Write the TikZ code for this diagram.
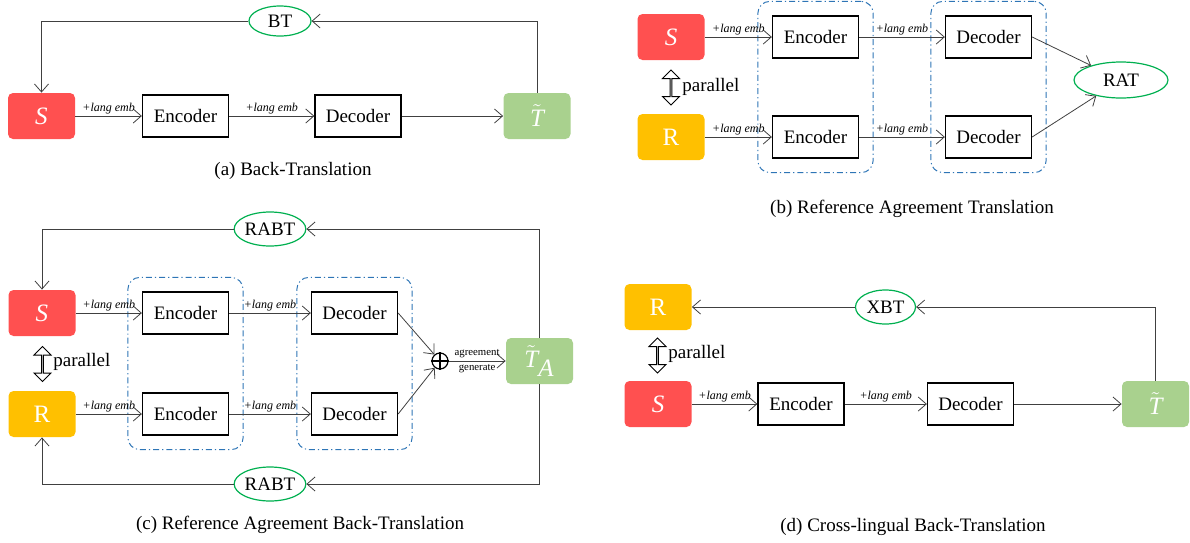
\documentclass[tikz,border=0pt]{standalone}
\usepackage{fontspec}
\setmainfont{Liberation Serif}
\usetikzlibrary{arrows.meta,shapes.geometric,shapes.arrows,fit}
\definecolor{sred}{HTML}{FF5050}
\definecolor{ryel}{HTML}{FFC000}
\definecolor{tgrn}{HTML}{A9D18E}
\definecolor{egrn}{HTML}{00B050}
\definecolor{grpblue}{HTML}{2E75B6}
\definecolor{lngray}{HTML}{404040}
\begin{document}
\begin{tikzpicture}[x=0.5pt,y=-0.5pt,
        every node/.style={font=\fontsize{9.5}{11}\selectfont},
        colbox/.style={rectangle,rounded corners=2.5pt,inner sep=0pt,text=white,
            minimum width=33.5pt,minimum height=23pt,font=\fontsize{12.5}{14}\selectfont},
        block/.style={rectangle,draw=black,line width=0.65pt,minimum width=43pt,minimum height=21pt},
        loss/.style={ellipse,draw=egrn,line width=0.6pt,inner sep=0pt},
        grp/.style={draw=grpblue,line width=0.5pt,dash pattern=on 3pt off 1.5pt on 0.6pt off 1.5pt,
            rounded corners=6pt,inner sep=7pt},
        flow/.style={draw=lngray,line width=0.4pt,-{Straight Barb[length=4pt,width=7pt]}},
        emb/.style={above,inner sep=1pt,font=\fontsize{6}{7}\selectfont\itshape},
        tiny/.style={inner sep=1.5pt,font=\fontsize{5.4}{6}\selectfont},
        par/.style={double arrow,shape border rotate=90,draw=black,line width=0.5pt,fill=white,
            inner sep=0pt,minimum width=8.5pt,minimum height=17.5pt,
            double arrow head extend=2.5pt,double arrow head indent=0pt}]
    \useasboundingbox (0,0) rectangle (1190,542);

    % (a)
    \node[colbox,fill=sred] (sa) at (41.5,116) {\textit{S}};
    \node[block] (enca) at (185.5,116) {Encoder};
    \node[block] (deca) at (358,116) {Decoder};
    \node[colbox,fill=tgrn] (ta) at (537,116) {$\tilde{\textit{T}}$};
    \node[loss,minimum width=31pt,minimum height=15pt] (bt) at (280,21) {BT};
    \node (capa) at (293,171) {(a) Back-Translation};

    \draw[flow] (sa) -- node[emb] {+lang emb} (enca);
    \draw[flow] (enca) -- node[emb] {+lang emb} (deca);
    \draw[flow] (deca) -- (ta);
    \draw[flow] (ta.north) |- (bt);
    \draw[flow] (bt) -| (sa.north);

    % (b)
    \node[colbox,fill=sred] (sb) at (671,37) {\textit{S}};
    \node[colbox,fill=ryel] (rb) at (671,137) {R};
    \node[par] (pb) at (671,87.5) {};
    \node[anchor=west,inner sep=0pt] (pbt) at (682,87) {parallel};
    \node[block] (encb1) at (815.5,37) {Encoder};
    \node[block] (encb2) at (815.5,137) {Encoder};
    \node[block] (decb1) at (988.5,37) {Decoder};
    \node[block] (decb2) at (988.5,137) {Decoder};
    \node[grp,fit=(encb1)(encb2)] (gencb) {};
    \node[grp,fit=(decb1)(decb2)] (gdecb) {};
    \node[loss,minimum width=47pt,minimum height=18pt] (rat) at (1121,80) {RAT};
    \node (capb) at (912,209) {(b) Reference Agreement Translation};

    \draw[flow] (sb) -- node[emb] {+lang emb} (encb1);
    \draw[flow] (encb1) -- node[emb] {+lang emb} (decb1);
    \draw[flow] (rb) -- node[emb] {+lang emb} (encb2);
    \draw[flow] (encb2) -- node[emb] {+lang emb} (decb2);
    \draw[flow] (decb1.east) -- (rat);
    \draw[flow] (decb2.east) -- (rat);

    % (c)
    \node[colbox,fill=sred] (sc) at (42,313) {\textit{S}};
    \node[colbox,fill=ryel] (rc) at (42,414) {R};
    \node[par] (pc) at (42.5,364) {};
    \node[anchor=west,inner sep=0pt] (pct) at (53,362) {parallel};
    \node[block] (encc1) at (185.5,313) {Encoder};
    \node[block] (encc2) at (185.5,414) {Encoder};
    \node[block] (decc1) at (354.5,313) {Decoder};
    \node[block] (decc2) at (354.5,414) {Decoder};
    \node[grp,fit=(encc1)(encc2)] (gencc) {};
    \node[grp,fit=(decc1)(decc2)] (gdecc) {};
    \node[circle,draw=black,line width=0.6pt,inner sep=0pt,minimum size=8pt] (op) at (440,361) {};
    \draw[line width=0.6pt] (op.north) -- (op.south) (op.west) -- (op.east);
    \node[colbox,fill=tgrn] (tc) at (539.5,361) {$\tilde{\textit{T}}_{\textit{A}}$};
    \node[loss,minimum width=35pt,minimum height=17pt] (rabt1) at (270,229) {RABT};
    \node[loss,minimum width=35pt,minimum height=17pt] (rabt2) at (270,484) {RABT};
    \node (capc) at (300,525) {(c) Reference Agreement Back-Translation};

    \draw[flow] (sc) -- node[emb] {+lang emb} (encc1);
    \draw[flow] (encc1) -- node[emb] {+lang emb} (decc1);
    \draw[flow] (rc) -- node[emb] {+lang emb} (encc2);
    \draw[flow] (encc2) -- node[emb] {+lang emb} (decc2);
    \draw[flow] (decc1.east) -- (op);
    \draw[flow] (decc2.east) -- (op);
    \draw[flow] (op) -- node[tiny,above] {agreement} node[tiny,below] {generate} (tc);
    \draw[flow] (tc.north) |- (rabt1);
    \draw[flow] (rabt1) -| (sc.north);
    \draw[flow] (tc.south) |- (rabt2);
    \draw[flow] (rabt2) -| (rc.south);

    % (d)
    \node[colbox,fill=ryel] (rd) at (658,307) {R};
    \node[colbox,fill=sred] (sd) at (658,404) {\textit{S}};
    \node[par] (pd) at (657.5,355.5) {};
    \node[anchor=west,inner sep=0pt] (pdt) at (668,354) {parallel};
    \node[block] (encd) at (801,404) {Encoder};
    \node[block] (decd) at (970.5,404) {Decoder};
    \node[colbox,fill=tgrn] (td) at (1155.5,404) {$\tilde{\textit{T}}$};
    \node[loss,minimum width=30pt,minimum height=17pt] (xbt) at (885.5,307) {XBT};
    \node (capd) at (913,527) {(d) Cross-lingual Back-Translation};

    \draw[flow] (sd) -- node[emb] {+lang emb} (encd);
    \draw[flow] (encd) -- node[emb] {+lang emb} (decd);
    \draw[flow] (decd) -- (td);
    \draw[flow] (td.north) |- (xbt);
    \draw[flow] (xbt) -- (rd);
\end{tikzpicture}
\end{document}
